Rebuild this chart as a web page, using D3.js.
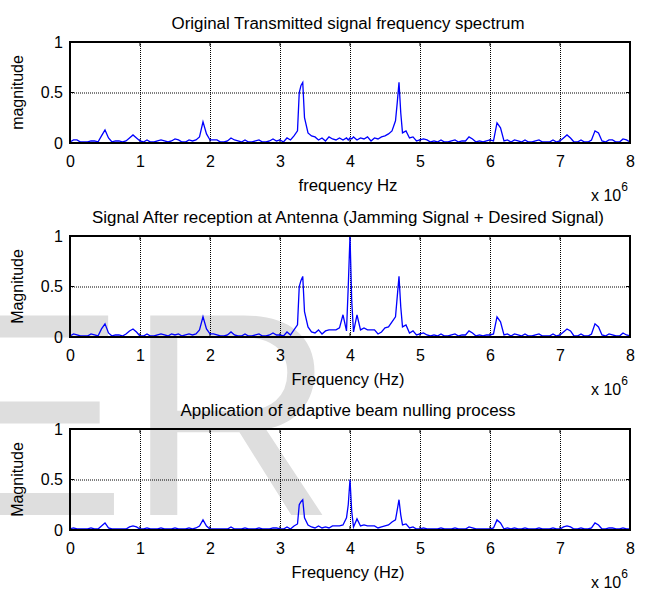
<!DOCTYPE html>
<html>
<head>
<meta charset="utf-8">
<script src="https://cdn.jsdelivr.net/npm/d3@7"></script>
<style>
  body { margin: 0; background: #fff; }
  svg { display: block; font-family: "Liberation Sans", Arial, sans-serif; }
  .grid line { stroke: #000; stroke-dasharray: 1,1; stroke-width: 1; }
  .grid path { display: none; }
  .tick text { fill: #000; }
</style>
</head>
<body>
<div id="chart"></div>
<script>
// frequency in units of 10^6 Hz
var freq = [
  0, 0.05, 0.1, 0.15, 0.2, 0.25, 0.3, 0.35, 0.4, 0.45, 0.5, 0.55, 0.6, 0.65, 0.7, 0.75, 0.8, 0.85, 0.9, 0.95,
  1, 1.05, 1.1, 1.15, 1.2, 1.25, 1.3, 1.35, 1.4, 1.45, 1.5, 1.55, 1.6, 1.65, 1.7, 1.75, 1.8, 1.85, 1.9, 1.95,
  2, 2.05, 2.1, 2.15, 2.2, 2.25, 2.3, 2.35, 2.4, 2.45, 2.5, 2.55, 2.6, 2.65, 2.7, 2.75, 2.8, 2.85, 2.9, 2.95,
  3, 3.05, 3.1, 3.15, 3.2, 3.25, 3.275, 3.3, 3.325, 3.35, 3.4, 3.45, 3.5, 3.55, 3.6, 3.65, 3.7, 3.75, 3.8, 3.85, 3.9, 3.95, 3.975,
  4, 4.025, 4.05, 4.1, 4.15, 4.2, 4.25, 4.3, 4.35, 4.4, 4.45, 4.5, 4.55, 4.6, 4.65, 4.675, 4.7, 4.725, 4.75, 4.8, 4.85, 4.9, 4.95,
  5, 5.05, 5.1, 5.15, 5.2, 5.25, 5.3, 5.35, 5.4, 5.45, 5.5, 5.55, 5.6, 5.65, 5.7, 5.75, 5.8, 5.85, 5.9, 5.95,
  6, 6.05, 6.1, 6.15, 6.2, 6.25, 6.3, 6.35, 6.4, 6.45, 6.5, 6.55, 6.6, 6.65, 6.7, 6.75, 6.8, 6.85, 6.9, 6.95,
  7, 7.05, 7.1, 7.15, 7.2, 7.25, 7.3, 7.35, 7.4, 7.45, 7.5, 7.55, 7.6, 7.65, 7.7, 7.75, 7.8, 7.85, 7.9, 7.95,
  8
];

var magTransmitted = [
  0.01, 0.03, 0.03, 0.01, 0.01, 0.01, 0.02, 0.02, 0.01, 0.07, 0.13, 0.05, 0.01, 0.02, 0.02, 0.01, 0.02, 0.05, 0.08, 0.05,
  0.02, 0.01, 0.03, 0.01, 0.01, 0.02, 0.03, 0.02, 0.01, 0.02, 0.04, 0.03, 0.01, 0.01, 0.03, 0.02, 0.03, 0.06, 0.21, 0.09,
  0.03, 0.03, 0.03, 0.01, 0.01, 0.02, 0.05, 0.03, 0.02, 0.01, 0.03, 0.01, 0.01, 0.02, 0.03, 0.01, 0.01, 0.02, 0.04, 0.02,
  0.03, 0.01, 0.05, 0.03, 0.07, 0.12, 0.50, 0.57, 0.60, 0.25, 0.10, 0.07, 0.06, 0.03, 0.05, 0.02, 0.06, 0.04, 0.03, 0.05, 0.03, 0.05, 0.03,
  0.05, 0.04, 0.06, 0.03, 0.05, 0.04, 0.06, 0.02, 0.05, 0.04, 0.06, 0.07, 0.09, 0.12, 0.22, 0.40, 0.60, 0.30, 0.10, 0.12, 0.05, 0.06, 0.02,
  0.03, 0.04, 0.03, 0.01, 0.02, 0.01, 0.03, 0.01, 0.01, 0.02, 0.03, 0.01, 0.02, 0.02, 0.06, 0.04, 0.01, 0.02, 0.01, 0.02,
  0.03, 0.02, 0.20, 0.15, 0.02, 0.03, 0.01, 0.03, 0.02, 0.01, 0.03, 0.01, 0.01, 0.02, 0.03, 0.01, 0.01, 0.01, 0.03, 0.01,
  0.02, 0.05, 0.08, 0.05, 0.01, 0.01, 0.03, 0.01, 0.01, 0.03, 0.12, 0.10, 0.02, 0.01, 0.03, 0.03, 0.01, 0.01, 0.04, 0.03,
  0.01
];

var magReceived = [
  0.01, 0.03, 0.02, 0.01, 0.01, 0.01, 0.03, 0.02, 0.01, 0.08, 0.13, 0.04, 0.01, 0.02, 0.02, 0.01, 0.03, 0.06, 0.08, 0.05,
  0.01, 0.01, 0.03, 0.01, 0.01, 0.02, 0.03, 0.02, 0.01, 0.03, 0.02, 0.03, 0.01, 0.02, 0.03, 0.02, 0.03, 0.07, 0.20, 0.08,
  0.03, 0.03, 0.02, 0.01, 0.01, 0.02, 0.05, 0.02, 0.01, 0.01, 0.03, 0.01, 0.01, 0.02, 0.03, 0.01, 0.01, 0.02, 0.04, 0.02,
  0.02, 0.01, 0.05, 0.02, 0.07, 0.12, 0.50, 0.56, 0.60, 0.25, 0.10, 0.05, 0.04, 0.07, 0.03, 0.06, 0.07, 0.07, 0.07, 0.09, 0.22, 0.06, 0.50,
  1.00, 0.35, 0.05, 0.22, 0.07, 0.09, 0.07, 0.07, 0.07, 0.03, 0.05, 0.09, 0.10, 0.15, 0.20, 0.40, 0.60, 0.30, 0.10, 0.12, 0.04, 0.06, 0.02,
  0.03, 0.04, 0.02, 0.01, 0.02, 0.01, 0.03, 0.01, 0.01, 0.02, 0.03, 0.01, 0.02, 0.02, 0.06, 0.04, 0.01, 0.02, 0.01, 0.02,
  0.02, 0.03, 0.20, 0.15, 0.02, 0.03, 0.01, 0.03, 0.02, 0.01, 0.03, 0.01, 0.01, 0.02, 0.03, 0.01, 0.01, 0.01, 0.03, 0.01,
  0.02, 0.05, 0.08, 0.06, 0.01, 0.01, 0.03, 0.01, 0.01, 0.03, 0.13, 0.10, 0.02, 0.01, 0.03, 0.02, 0.01, 0.01, 0.04, 0.02,
  0.01
];

var magNulled = [
  0.01, 0.02, 0.01, 0.01, 0.01, 0.01, 0.02, 0.01, 0.01, 0.04, 0.07, 0.02, 0.01, 0.01, 0.01, 0.01, 0.01, 0.03, 0.04, 0.03,
  0.01, 0.01, 0.02, 0.01, 0.01, 0.01, 0.02, 0.01, 0.01, 0.01, 0.02, 0.01, 0.01, 0.01, 0.02, 0.01, 0.02, 0.04, 0.10, 0.04,
  0.01, 0.01, 0.01, 0.01, 0.01, 0.01, 0.03, 0.01, 0.01, 0.01, 0.02, 0.01, 0.01, 0.01, 0.02, 0.01, 0.01, 0.01, 0.02, 0.02,
  0.01, 0.01, 0.03, 0.01, 0.04, 0.06, 0.25, 0.28, 0.30, 0.12, 0.05, 0.03, 0.02, 0.04, 0.02, 0.03, 0.02, 0.04, 0.04, 0.04, 0.05, 0.12, 0.25,
  0.50, 0.18, 0.03, 0.11, 0.04, 0.05, 0.04, 0.04, 0.04, 0.02, 0.03, 0.04, 0.05, 0.08, 0.10, 0.20, 0.30, 0.15, 0.05, 0.06, 0.02, 0.03, 0.01,
  0.01, 0.02, 0.01, 0.01, 0.01, 0.01, 0.02, 0.01, 0.01, 0.01, 0.02, 0.01, 0.01, 0.01, 0.03, 0.02, 0.01, 0.01, 0.01, 0.01,
  0.01, 0.02, 0.10, 0.07, 0.01, 0.02, 0.01, 0.02, 0.01, 0.01, 0.02, 0.01, 0.01, 0.01, 0.02, 0.01, 0.01, 0.01, 0.02, 0.01,
  0.01, 0.03, 0.04, 0.03, 0.01, 0.01, 0.02, 0.01, 0.01, 0.02, 0.07, 0.05, 0.01, 0.01, 0.02, 0.02, 0.01, 0.01, 0.02, 0.01,
  0.01
];

var xTicks = [0, 1, 2, 3, 4, 5, 6, 7, 8];
var yTicks = [0, 0.5, 1];
var titles = [
  "Original Transmitted signal frequency spectrum",
  "Signal After reception at Antenna (Jamming Signal + Desired Signal)",
  "Application of adaptive beam nulling process"
];
var xLabels = ["frequency Hz", "Frequency (Hz)", "Frequency (Hz)"];
var yLabels = ["magnitude", "Magnitude", "Magnitude"];
var series = [magTransmitted, magReceived, magNulled];

var svgWidth = 645;
var svgHeight = 590;
var left = 70, right = 630;
var tops = [42, 236, 429];
var plotH = 101;
var textCenter = 348;
// measured widths of the (narrow) title text in the picture
var titleWidths = [353, 512, 335];
var xLabelWidths = [99, 113, 113];

var svg = d3.select("#chart").append("svg")
  .attr("width", svgWidth)
  .attr("height", svgHeight);

// faint watermark behind everything
svg.append("text")
  .attr("x", -67)
  .attr("y", 515)
  .attr("font-size", 290)
  .attr("fill", "#dedede")
  .text("ER");

var x = d3.scaleLinear().domain([0, 8]).range([left, right]);

series.forEach(function(mags, i) {
  var top = tops[i];
  var y = d3.scaleLinear().domain([0, 1]).range([top + plotH, top]);
  var g = svg.append("g");

  // dotted grid
  g.append("g")
    .attr("class", "grid")
    .attr("transform", `translate(0, ${top + plotH})`)
    .call(d3.axisBottom(x).tickValues(xTicks.slice(1, -1)).tickSize(-plotH).tickFormat(""));
  g.append("g")
    .attr("class", "grid")
    .attr("transform", `translate(${left}, 0)`)
    .call(d3.axisLeft(y).tickValues([0.5]).tickSize(-(right - left)).tickFormat(""));

  // tick labels
  var xAxis = g.append("g")
    .attr("transform", `translate(0, ${top + plotH})`)
    .call(d3.axisBottom(x).tickValues(xTicks).tickSize(0).tickPadding(13).tickFormat(d3.format("d")));
  xAxis.select(".domain").remove();
  xAxis.selectAll("text").attr("font-size", 16);

  var yAxis = g.append("g")
    .attr("transform", `translate(${left}, 0)`)
    .call(d3.axisLeft(y).tickValues(yTicks).tickSize(0).tickPadding(7).tickFormat(d => d === 0.5 ? "0.5" : d3.format("d")(d)));
  yAxis.select(".domain").remove();
  yAxis.selectAll("text").attr("font-size", 16);

  // inner tick marks
  xTicks.forEach(function(t) {
    g.append("line").attr("x1", x(t)).attr("x2", x(t))
      .attr("y1", top).attr("y2", top + 4).attr("stroke", "#000");
    g.append("line").attr("x1", x(t)).attr("x2", x(t))
      .attr("y1", top + plotH).attr("y2", top + plotH - 4).attr("stroke", "#000");
  });
  yTicks.forEach(function(t) {
    g.append("line").attr("x1", left).attr("x2", left + 4)
      .attr("y1", y(t)).attr("y2", y(t)).attr("stroke", "#000");
    g.append("line").attr("x1", right).attr("x2", right - 4)
      .attr("y1", y(t)).attr("y2", y(t)).attr("stroke", "#000");
  });

  // spectrum line
  var line = d3.line()
    .x((d, k) => x(freq[k]))
    .y(d => y(d));
  g.append("path")
    .datum(mags)
    .attr("fill", "none")
    .attr("stroke", "#0000ff")
    .attr("stroke-width", 1.3)
    .attr("d", line);

  // box
  g.append("rect")
    .attr("x", left).attr("y", top)
    .attr("width", right - left).attr("height", plotH)
    .attr("fill", "none").attr("stroke", "#000").attr("stroke-width", 2);

  // title
  g.append("text")
    .attr("x", textCenter - titleWidths[i] / 2)
    .attr("y", top - 13)
    .attr("font-size", 16)
    .attr("textLength", titleWidths[i])
    .attr("lengthAdjust", "spacingAndGlyphs")
    .text(titles[i]);

  // x label
  g.append("text")
    .attr("x", textCenter - xLabelWidths[i] / 2)
    .attr("y", top + plotH + 48)
    .attr("font-size", 17)
    .attr("textLength", xLabelWidths[i])
    .attr("lengthAdjust", "spacingAndGlyphs")
    .text(xLabels[i]);

  // y label
  g.append("text")
    .attr("transform", `translate(23, ${top + plotH / 2}) rotate(-90)`)
    .attr("text-anchor", "middle")
    .attr("font-size", 16)
    .text(yLabels[i]);

  // exponent
  var ex = g.append("text")
    .attr("x", 591)
    .attr("y", top + plotH + 58)
    .attr("font-size", 16);
  ex.append("tspan").text("x 10");
  ex.append("tspan").attr("dy", -10).attr("font-size", 12).text("6");
});
</script>
</body>
</html>
